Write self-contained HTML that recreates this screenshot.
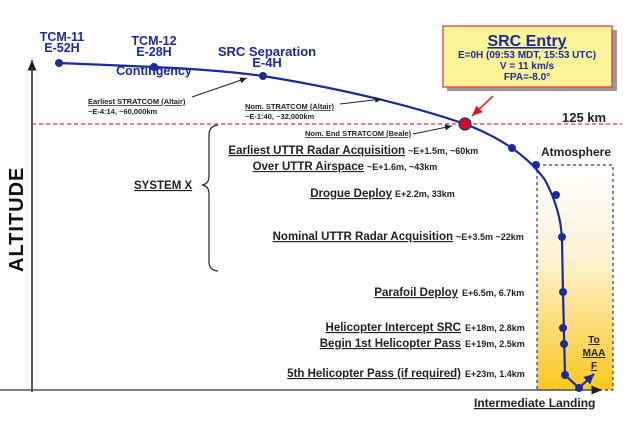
<!DOCTYPE html>
<html><head><style>
body{margin:0;background:#fff;}
svg text{font-family:"Liberation Sans",Arial,sans-serif;font-weight:bold;}
</style></head><body>
<svg width="640" height="420" viewBox="0 0 640 420" xmlns="http://www.w3.org/2000/svg">
<defs>
<linearGradient id="g" x1="0" y1="0" x2="0" y2="1">
<stop offset="0" stop-color="#fff"/><stop offset="0.4" stop-color="#fdf3d6"/><stop offset="1" stop-color="#f9c81e"/>
</linearGradient>
<marker id="ab" markerWidth="8" markerHeight="8" refX="7" refY="4" orient="auto"><path d="M0,1 L7,4 L0,7 z" fill="#222"/></marker>
<marker id="ar" markerWidth="8" markerHeight="8" refX="7" refY="4" orient="auto"><path d="M0,1 L7,4 L0,7 z" fill="#e01020"/></marker>
<marker id="au" markerWidth="6" markerHeight="6" refX="5" refY="3" orient="auto"><path d="M0,0.5 L5,3 L0,5.5 z" fill="#1a2aa0"/></marker>
</defs>
<rect x="537" y="165" width="76" height="225" fill="url(#g)" stroke="#2233aa" stroke-width="1.2" stroke-dasharray="3,3"/>
<line x1="32" y1="392" x2="32" y2="60" stroke="#222" stroke-width="1.5" marker-end="url(#ab)"/>
<line x1="0" y1="390" x2="602" y2="390" stroke="#555" stroke-width="1.5" marker-end="url(#ab)"/>
<text transform="translate(23,272) rotate(-90)" font-size="20" fill="#111" letter-spacing="1">ALTITUDE</text>
<line x1="32" y1="124" x2="622" y2="124" stroke="#e0303a" stroke-width="1.3" stroke-dasharray="4,3"/>
<path d="M59,63 L154,67 Q220,70 263,76 Q380,95 465,124 Q520,145 545,180 Q561,210 562,240 L563,292 L565,375 L579,388" fill="none" stroke="#1a2aa0" stroke-width="2.2"/>
<line x1="579" y1="388" x2="594" y2="374" stroke="#1a2aa0" stroke-width="2" marker-end="url(#au)"/>
<g fill="#1a2aa0">
<circle cx="59" cy="63" r="4"/><circle cx="154" cy="67" r="4"/><circle cx="263" cy="76" r="4"/>
<circle cx="512" cy="148" r="4"/><circle cx="536" cy="165" r="4"/><circle cx="556" cy="195" r="4"/>
<circle cx="562" cy="237" r="4"/><circle cx="563" cy="292" r="4"/><circle cx="563" cy="328" r="4"/>
<circle cx="564" cy="344" r="4"/><circle cx="565" cy="375" r="4"/><circle cx="579" cy="388" r="4"/>
</g>
<circle cx="465" cy="124" r="6" fill="#d01020" stroke="#1a2aa0" stroke-width="1.2"/>
<g fill="#1a2aa0" text-anchor="middle">
<text x="62" y="41" font-size="12.5">TCM-11</text><text x="62" y="52" font-size="12.5">E-52H</text>
<text x="154" y="45" font-size="12.5">TCM-12</text><text x="154" y="56" font-size="12.5">E-28H</text>
<text x="154" y="75" font-size="12.5">Contingency</text>
<text x="267" y="56" font-size="13">SRC Separation</text><text x="267" y="67" font-size="13">E-4H</text>
</g>
<rect x="447" y="30" width="170" height="61" fill="#999"/>
<rect x="443" y="26" width="169" height="61" fill="#fbf396" stroke="#e03040" stroke-width="1.2"/>
<g fill="#1a2aa0" text-anchor="middle">
<text x="527" y="46" font-size="16" text-decoration="underline">SRC Entry</text>
<text x="527" y="58" font-size="10">E=0H (09:53 MDT, 15:53 UTC)</text>
<text x="527" y="69" font-size="10">V = 11 km/s</text>
<text x="527" y="80" font-size="10">FPA=-8.0°</text>
</g>
<line x1="493" y1="96" x2="472" y2="116" stroke="#e01020" stroke-width="1.5" marker-end="url(#ar)"/>
<text x="562" y="122" font-size="13" fill="#222">125 km</text>
<text x="541" y="156" font-size="12" fill="#222">Atmosphere</text>
<g fill="#222" font-size="7.5" text-decoration="underline">
<text x="88" y="104">Earliest STRATCOM (Altair)</text>
<text x="245" y="109">Nom. STRATCOM (Altair)</text>
<text x="305" y="136">Nom. End STRATCOM (Beale)</text>
</g>
<g fill="#222" font-size="7.5">
<text x="88" y="114">~E-4:14, ~60,000km</text>
<text x="245" y="119">~E-1:40, ~32,000km</text>
</g>
<line x1="192" y1="97" x2="247" y2="78" stroke="#222" stroke-width="1" marker-end="url(#ab)"/>
<line x1="340" y1="104" x2="382" y2="99" stroke="#222" stroke-width="1" marker-end="url(#ab)"/>
<line x1="413" y1="134" x2="452" y2="126" stroke="#222" stroke-width="1" marker-end="url(#ab)"/>
<path d="M218,125 Q209,126 209,135 L209,176 Q209,184 202,185 Q209,186 209,194 L209,262 Q209,270 218,271" fill="none" stroke="#222" stroke-width="1.2"/>
<text x="134" y="189" font-size="11.5" fill="#222" text-decoration="underline">SYSTEM X</text>
<g fill="#222" text-anchor="end" font-size="11.5" text-decoration="underline">
<text x="405" y="154">Earliest UTTR Radar Acquisition</text>
<text x="364" y="170">Over UTTR Airspace</text>
<text x="392" y="197">Drogue Deploy</text>
<text x="453" y="240">Nominal UTTR Radar Acquisition</text>
<text x="458" y="296">Parafoil Deploy</text>
<text x="461" y="331">Helicopter Intercept SRC</text>
<text x="461" y="347">Begin 1st Helicopter Pass</text>
<text x="461" y="377">5th Helicopter Pass (if required)</text>
</g>
<g fill="#222" font-size="9">
<text x="408" y="154">~E+1.5m, ~60km</text>
<text x="367" y="170">~E+1.6m, ~43km</text>
<text x="395" y="197">E+2.2m, 33km</text>
<text x="456" y="240">~E+3.5m ~22km</text>
<text x="462" y="296">E+6.5m, 6.7km</text>
<text x="465" y="331">E+18m, 2.8km</text>
<text x="465" y="347">E+19m, 2.5km</text>
<text x="465" y="377">E+23m, 1.4km</text>
</g>
<g fill="#222" font-size="10" text-anchor="middle" text-decoration="underline">
<text x="594" y="343">To</text><text x="594" y="356">MAA</text><text x="594" y="369">F</text>
</g>
<text x="474" y="407" font-size="12" fill="#222" text-decoration="underline">Intermediate Landing</text>
</svg>
</body></html>
